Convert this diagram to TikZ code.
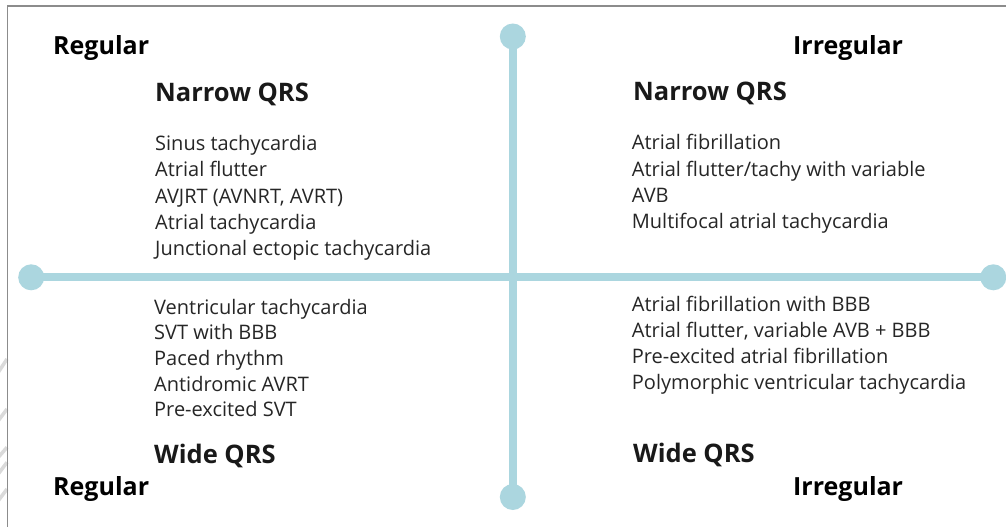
\documentclass[tikz,border=0pt]{standalone}
\usepackage{fontspec}
\setmainfont{Open Sans}
\definecolor{axisblue}{HTML}{ABD6DF}
\definecolor{framegray}{HTML}{8C8C8C}
\definecolor{stripegray}{HTML}{DADADA}
\tikzset{
  axisline/.style={draw=axisblue, line width=8pt},
  axisdot/.style={circle, fill=axisblue, minimum size=26pt, inner sep=0pt},
  headtxt/.style={anchor=base west, inner sep=0pt, font=\fontsize{25}{28}\selectfont\bfseries, text=black},
  subtxt/.style={anchor=base west, inner sep=0pt, font=\fontsize{25.5}{28}\selectfont\bfseries, text=black!90},
  listtxt/.style={anchor=base west, inner sep=0pt, font=\fontsize{20}{24}\selectfont, text=black!85},
}
\begin{document}
\begin{tikzpicture}[x=1pt, y=-1pt]
\useasboundingbox (0,0) rectangle (1006,527);
\fill[white] (0,0) rectangle (1006,527);
% faint stripes at the left edge
\foreach \a/\b in {371.7/360, 420/410, 456.7/448.3, 473.3/463.3, 500/490}
  \draw[stripegray, line width=3.5pt] (-2,\a+1) -- (7,\b-1);
% frame
\draw[framegray, line width=1.5pt] (7.3,527) -- (7.3,6) -- (1006,6);
% axes
\node[axisdot] (dotT) at (512.8,36.5) {};
\node[axisdot] (dotB) at (512.8,497) {};
\node[axisdot] (dotL) at (31.2,277.3) {};
\node[axisdot] (dotR) at (993.3,277.3) {};
\draw[axisline] (dotT.center) -- (dotB.center);
\draw[axisline] (dotL.center) -- (dotR.center);
% corner headings
\node[headtxt] (regTL) at (53,55) {Regular};
\node[headtxt] (irrTR) at (793,55) {Irregular};
\node[headtxt] (regBL) at (53,495) {Regular};
\node[headtxt] (irrBR) at (793,495) {Irregular};
% sub headings
\node[subtxt] (narL) at (155,101) {Narrow QRS};
\node[subtxt] (narR) at (633,100.7) {Narrow QRS};
\node[subtxt] (widL) at (154,463) {Wide QRS};
\node[subtxt] (widR) at (633,462) {Wide QRS};
% lists: top left
\node[listtxt] (tl1) at (155,150) {Sinus tachycardia};
\node[listtxt] (tl2) at (155,176.5) {Atrial flutter};
\node[listtxt] (tl3) at (155,203) {AVJRT (AVNRT, AVRT)};
\node[listtxt] (tl4) at (155,229) {Atrial tachycardia};
\node[listtxt] (tl5) at (155,255) {Junctional ectopic tachycardia};
% top right
\node[listtxt] (tr1) at (631.7,149.3) {Atrial fibrillation};
\node[listtxt] (tr2) at (631.7,176.5) {Atrial flutter/tachy with variable};
\node[listtxt] (tr3) at (631.7,202) {AVB};
\node[listtxt] (tr4) at (631.7,228) {Multifocal atrial tachycardia};
% bottom left
\node[listtxt] (bl1) at (154,314.3) {Ventricular tachycardia};
\node[listtxt] (bl2) at (154,339.5) {SVT with BBB};
\node[listtxt] (bl3) at (154,365) {Paced rhythm};
\node[listtxt] (bl4) at (154,391) {Antidromic AVRT};
\node[listtxt] (bl5) at (154,416.7) {Pre-excited SVT};
% bottom right
\node[listtxt] (br1) at (631.7,311) {Atrial fibrillation with BBB};
\node[listtxt] (br2) at (631.7,337.5) {Atrial flutter, variable AVB + BBB};
\node[listtxt] (br3) at (631.7,363.3) {Pre-excited atrial fibrillation};
\node[listtxt] (br4) at (631.7,389) {Polymorphic ventricular tachycardia};
\end{tikzpicture}
\end{document}
